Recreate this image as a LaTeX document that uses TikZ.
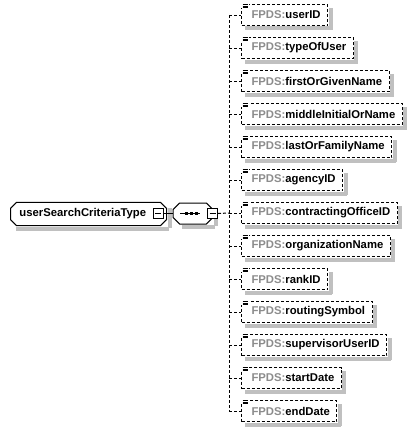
\documentclass[tikz,border=0pt]{standalone}
\usepackage{fontspec}
\setmainfont{Liberation Sans}
\usetikzlibrary{shapes.misc,calc}
\definecolor{pfxgray}{RGB}{140,140,140}
\definecolor{shadowgray}{RGB}{192,192,192}
\tikzset{
  dashline/.style={draw=black, line width=1pt, dash pattern=on 3pt off 2pt},
  elemshape/.style={rectangle, minimum height=21pt, inner xsep=7pt, inner ysep=0pt, anchor=west,
    font=\fontsize{11.3}{13}\selectfont\bfseries},
  elem/.style={elemshape, draw=black, line width=1pt, dash pattern=on 3pt off 2pt, fill=white},
  typeshape/.style={chamfered rectangle, chamfered rectangle xsep=3pt, chamfered rectangle ysep=3pt,
    minimum height=22pt, minimum width=150pt, inner xsep=6pt, text width=138pt, align=left,
    font=\fontsize{11.3}{13}\selectfont\bfseries},
  typebox/.style={typeshape, draw=black, line width=1pt, fill=white},
  seqshape/.style={chamfered rectangle, chamfered rectangle xsep=6pt, chamfered rectangle ysep=5pt,
    minimum height=21pt, minimum width=40pt},
  seqbox/.style={seqshape, draw=black, line width=1pt, fill=white},
  shadowrule/.style={inner sep=0pt, outer sep=0pt, anchor=north west},
  minusbox/.style={draw=black, line width=1pt, fill=white, minimum size=10pt, inner sep=0pt,
    path picture={\draw[line width=1pt] ([xshift=2pt]path picture bounding box.west) -- ([xshift=-2pt]path picture bounding box.east);}},
}
\newcommand{\pfx}{\textcolor{pfxgray}{FPDS:}}
\newcommand{\shrule}[2]{\textcolor{shadowgray}{\rule{#1}{#2}}}
\begin{document}
\begin{tikzpicture}[x=1pt,y=-1pt]
\useasboundingbox (0,0) rectangle (413,431);
% main type
\node[typebox, anchor=west] (type) at (10,214) {userSearchCriteriaType};
\node[seqbox] (seq) at (193,213.5) {};
% shadows of type and sequence
\path let \p1=(type.west), \p2=(type.east), \p3=(type.south), \p4=(type.north) in
  node[shadowrule] (typesb) at (\x1+6,\y3-0.5) {\shrule{\dimexpr\x2-\x1-4pt\relax}{4pt}}
  node[shadowrule] (typesr) at (\x2+0.5,\y4-6) {\shrule{4pt}{\dimexpr\y4-\y3-4pt\relax}};
\path let \p1=(seq.west), \p2=(seq.east), \p3=(seq.south), \p4=(seq.north) in
  node[shadowrule] (seqsb) at (\x1+9,\y3-0.5) {\shrule{\dimexpr\x2-\x1-8pt\relax}{4pt}}
  node[shadowrule] (seqsr) at (\x2+0.5,\y4-8) {\shrule{4pt}{\dimexpr\y4-\y3-7pt\relax}};
\node[minusbox] (m1) at (158,213.5) {};
\node[minusbox] (m2) at (212.5,213.5) {};
\draw[line width=1pt] (m1.east) -- (seq.west);
% dots in sequence
\draw[line width=1pt] ([xshift=-13pt]seq.center) -- ([xshift=7pt]seq.center);
\foreach \dx in {-8,-3,2}
  \fill ([xshift=\dx pt,yshift=-1.5pt]seq.center) rectangle ([xshift=\dx pt+3pt,yshift=1.5pt]seq.center);
% elements
\foreach \name/\label/\y in {
  e1/userID/15, e2/typeOfUser/48, e3/firstOrGivenName/81, e4/middleInitialOrName/114,
  e5/lastOrFamilyName/147, e6/agencyID/180, e7/contractingOfficeID/213, e8/organizationName/246,
  e9/rankID/279, e10/routingSymbol/312, e11/supervisorUserID/345, e12/startDate/378, e13/endDate/411}{
  \node[elem] (\name) at (241,\y) {\hspace{3pt}\pfx\label};
  \path let \p1=(\name.south west), \p2=(\name.north east) in
    node[shadowrule] (\name sb) at ([shift={(4,0.5)}]\name.south west) {\shrule{\dimexpr\x2-\x1\relax}{4pt}}
    node[shadowrule] (\name sr) at ([shift={(0.5,4)}]\name.north east) {\shrule{4pt}{\dimexpr\y2-\y1\relax}};
  \fill[white] ([xshift=-0.5pt,yshift=0.5pt]\name.north west) rectangle ([xshift=8pt,yshift=-4pt]\name.north west);
  \foreach \k in {0,1.6,3.2}
    \draw[line width=0.8pt] ([xshift=1.5pt,yshift=-\k pt-0.5pt]\name.north west) -- ([xshift=7pt,yshift=-\k pt-0.5pt]\name.north west);
  \coordinate (j\name) at (229,\y);
  \draw[dashline] (j\name) -- (\name.west);
}
\draw[dashline] (je1) -- (je13);
\draw[dashline] (m2.east) -- (je7);
\end{tikzpicture}
\end{document}
